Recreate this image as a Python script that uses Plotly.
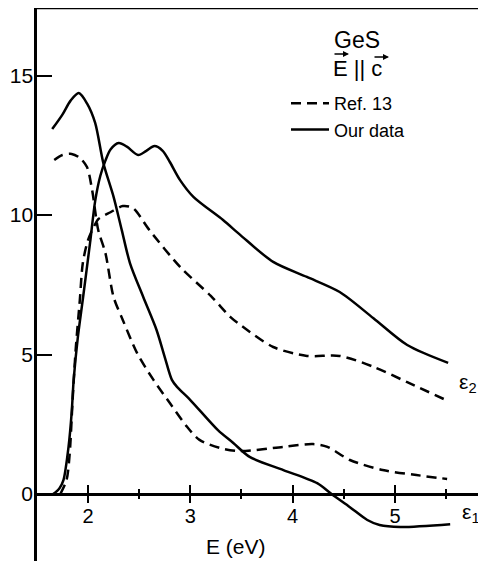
import plotly.graph_objects as go

# eps2 (Ref. 13, dashed)
e2_ref_x = [1.73, 1.79, 1.82, 1.85, 1.88, 1.92, 1.95, 2.00, 2.06, 2.10, 2.22, 2.34, 2.44, 2.60, 2.90, 3.20, 3.39, 3.49, 3.81, 4.14, 4.46, 4.79, 5.12, 5.51]
e2_ref_y = [0.0, 0.5, 1.4, 3.4, 5.2, 6.95, 8.3, 9.1, 9.6, 9.85, 10.1, 10.32, 10.25, 9.46, 8.14, 7.1, 6.35, 6.06, 5.27, 4.95, 4.95, 4.56, 4.01, 3.35]

# eps2 (our data, solid)
e2_our_x = [1.66, 1.72, 1.76, 1.81, 1.84, 1.86, 1.90, 1.95, 2.02, 2.07, 2.12, 2.17, 2.22, 2.30, 2.38, 2.49, 2.57, 2.65, 2.73, 2.80, 2.90, 3.03, 3.32, 3.49, 3.81, 4.14, 4.46, 4.79, 5.12, 5.52]
e2_our_y = [0.0, 0.2, 0.5, 1.7, 2.9, 4.1, 5.6, 7.0, 9.0, 10.5, 11.4, 11.95, 12.35, 12.58, 12.45, 12.15, 12.3, 12.47, 12.3, 11.9, 11.25, 10.65, 9.82, 9.28, 8.32, 7.78, 7.24, 6.3, 5.34, 4.7]

# eps1 (Ref. 13, dashed)
e1_ref_x = [1.67, 1.75, 1.84, 1.92, 1.99, 2.04, 2.10, 2.17, 2.25, 2.34, 2.48, 2.64, 2.80, 2.97, 3.09, 3.29, 3.49, 3.91, 4.20, 4.34, 4.56, 4.88, 5.21, 5.51]
e1_ref_y = [11.97, 12.15, 12.19, 12.05, 11.72, 10.9, 9.46, 8.64, 7.06, 6.24, 5.05, 4.09, 3.26, 2.4, 1.94, 1.65, 1.54, 1.69, 1.79, 1.69, 1.22, 0.86, 0.68, 0.54]

# eps1 (our data, solid)
e1_our_x = [1.65, 1.75, 1.83, 1.91, 1.99, 2.07, 2.15, 2.25, 2.33, 2.41, 2.54, 2.67, 2.75, 2.82, 2.87, 3.00, 3.27, 3.42, 3.58, 3.91, 4.24, 4.38, 4.56, 4.73, 4.85, 5.05, 5.54]
e1_our_y = [13.08, 13.6, 14.1, 14.37, 14.0, 13.3, 11.86, 10.65, 9.46, 8.28, 7.06, 5.88, 4.91, 4.09, 3.84, 3.37, 2.29, 1.83, 1.33, 0.86, 0.39, 0.0, -0.47, -0.93, -1.11, -1.18, -1.08]

x_ticks = [2, 3, 4, 5]
y_ticks = [0, 5, 10, 15]

FONT = "Liberation Sans"
DASH = "10px,6px"
LW = 2.5

fig = go.Figure()
fig.add_trace(go.Scatter(x=e2_ref_x, y=e2_ref_y, mode="lines", name="Ref. 13",
                         line=dict(color="black", width=LW, dash=DASH, shape="spline", smoothing=0.8),
                         showlegend=True))
fig.add_trace(go.Scatter(x=e2_our_x, y=e2_our_y, mode="lines", name="Our data",
                         line=dict(color="black", width=LW, shape="spline", smoothing=0.8),
                         showlegend=True))
fig.add_trace(go.Scatter(x=e1_ref_x, y=e1_ref_y, mode="lines", name="Ref. 13 e1",
                         line=dict(color="black", width=LW, dash=DASH, shape="spline", smoothing=0.8),
                         showlegend=False))
fig.add_trace(go.Scatter(x=e1_our_x, y=e1_our_y, mode="lines", name="Our data e1",
                         line=dict(color="black", width=LW, shape="spline", smoothing=0.8),
                         showlegend=False))
# overlay axis for the outward half of the crossing ticks
fig.add_trace(go.Scatter(x=[None], y=[None], xaxis="x2", showlegend=False))

xpos = (561 - 494) / 553.0

# The page body has an 8px margin, so the figure is 8px smaller than the window
fig.update_layout(
    width=478, height=553,
    margin=dict(l=29, r=0, t=0, b=0, autoexpand=False),
    paper_bgcolor="white", plot_bgcolor="white",
    font=dict(family=FONT, color="black", size=20),
    xaxis=dict(range=[1.5015, 5.89], anchor="free", position=xpos, automargin=False,
               tickvals=x_ticks, ticks="inside", ticklen=8, tickwidth=2, tickcolor="black",
               showline=True, linewidth=2.5, linecolor="black",
               showgrid=False, zeroline=False, ticklabelstandoff=3,
               minor=dict(dtick=0.5, tick0=0, ticks="inside", ticklen=4, tickwidth=1.5, tickcolor="black"),
               tickfont=dict(size=20, family=FONT)),
    xaxis2=dict(range=[1.5015, 5.89], overlaying="x", anchor="free", position=xpos, automargin=False,
                tickvals=x_ticks, ticks="outside", ticklen=8, tickwidth=2, tickcolor="black",
                showticklabels=False, showgrid=False, zeroline=False, showline=False,
                minor=dict(dtick=0.5, tick0=0, ticks="outside", ticklen=4, tickwidth=1.5, tickcolor="black")),
    yaxis=dict(range=[-2.4, 17.42], tickvals=y_ticks, ticks="inside", ticklen=15, tickwidth=2,
               automargin=False, ticklabelstandoff=-3,
               tickcolor="black", showline=True, linewidth=2.5, linecolor="black",
               showgrid=False, zeroline=False, tickfont=dict(size=21, family=FONT)),
    legend=dict(x=(286 - 37) / 449.0, y=(561 - 85) / 553.0, xanchor="left", yanchor="top",
                bgcolor="rgba(0,0,0,0)", font=dict(size=18, family=FONT), itemwidth=38,
                tracegroupgap=0),
    shapes=[dict(type="line", xref="paper", yref="paper", x0=0, x1=1, y0=1, y1=1,
                 line=dict(color="black", width=2.5))],
)

def px_to_paper(px, py):
    return (px - 37) / 449.0, (561 - py) / 553.0

anns = []
for txt, (px, py), size in [
    ("GeS", (357, 40), 23),
    ("E || c", (357, 69), 22),
    ("ε<sub>2</sub>", (468, 383), 21),
    ("ε<sub>1</sub>", (471, 513), 21),
    ("E (eV)", (236, 546), 21),
]:
    xp, yp = px_to_paper(px, py)
    anns.append(dict(text=txt, x=xp, y=yp, xref="paper", yref="paper", showarrow=False,
                     xanchor="center", yanchor="middle", font=dict(size=size, family=FONT, color="black")))
# vector arrows above E and c
for (hx, hy), length in [((349, 54), 16), ((389, 57), 16)]:
    xp, yp = px_to_paper(hx, hy)
    anns.append(dict(text="", x=xp, y=yp, xref="paper", yref="paper", showarrow=True,
                     ax=-length, ay=0, arrowhead=2, arrowsize=0.8, arrowwidth=1.5, arrowcolor="black"))
fig.update_layout(annotations=anns)

fig.write_html("out.html")
